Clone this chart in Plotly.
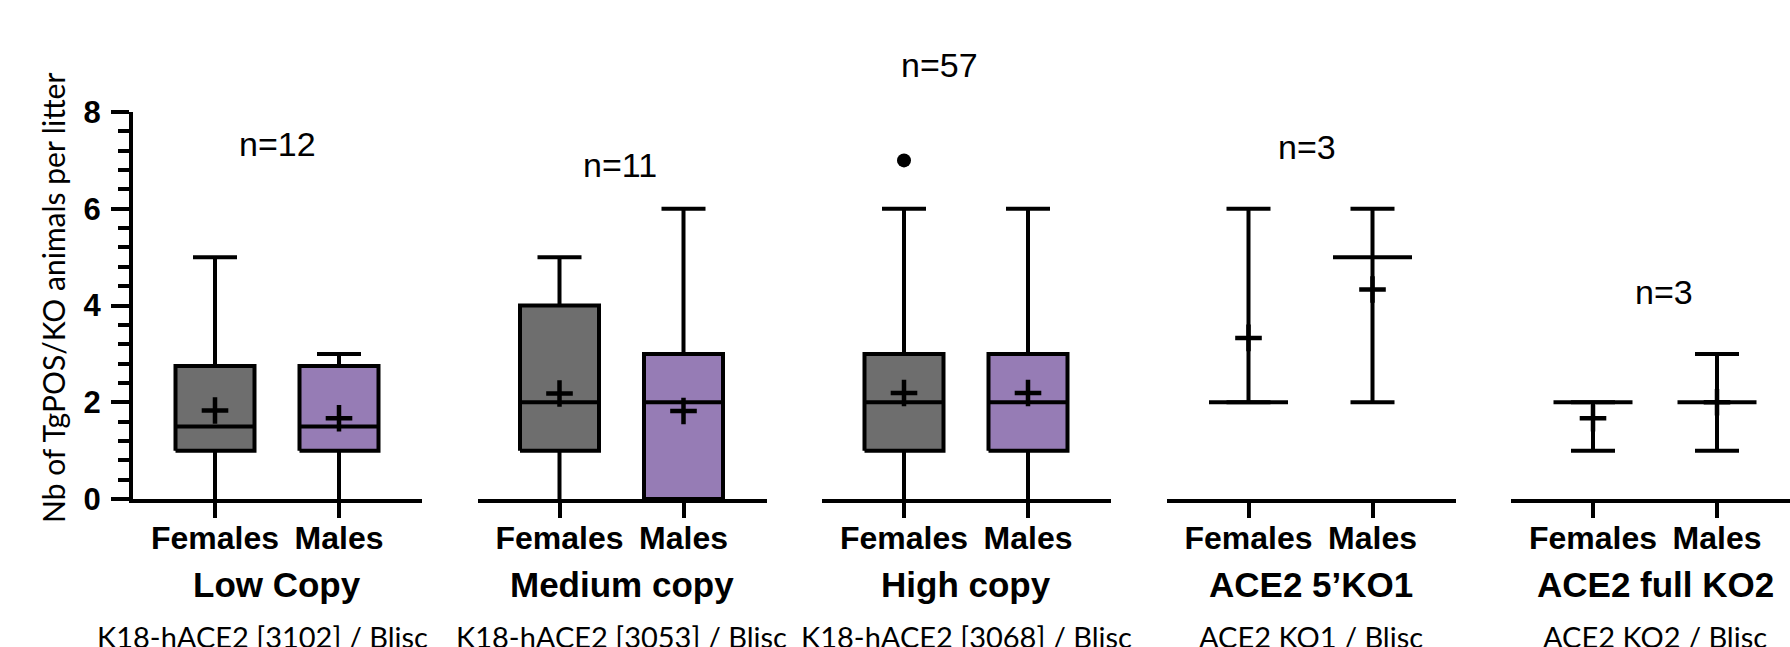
import plotly.graph_objects as go

# ---------------- data ----------------
groups = ["Low Copy", "Medium copy", "High copy", "ACE2 5\u2019KO1", "ACE2 full KO2"]
strains = ["K18-hACE2 [3102] / Blisc", "K18-hACE2 [3053] / Blisc",
           "K18-hACE2 [3068] / Blisc", "ACE2 KO1 / Blisc", "ACE2 KO2 / Blisc"]
n_labels = ["n=12", "n=11", "n=57", "n=3", "n=3"]
sexes = ["Females", "Males"]

# per group: [Females, Males]
mins = [[0, 0], [0, 0], [0, 0], [2, 2], [1, 1]]
q1s = [[1, 1], [1, 0], [1, 1], [None, None], [None, None]]
medians = [[1.5, 1.5], [2, 2], [2, 2], [2, 5], [2, 2]]
q3s = [[2.75, 2.75], [4, 3], [3, 3], [None, None], [None, None]]
maxs = [[5, 3], [5, 6], [6, 6], [6, 6], [2, 3]]
means = [[1.83, 1.67], [2.18, 1.82], [2.19, 2.19], [3.33, 4.33], [1.67, 2.0]]
outliers = [[[], []], [[], []], [[7], []], [[], []], [[], []]]

y_ticks = [0, 2, 4, 6, 8]

# ---------------- styles / geometry ----------------
W, H = 1790, 647
L, T, B = 133, 112, 148
plot_w = W - L
plot_h = H - T - B
panel_step = 344.5
panel_w = 289
first_off = 82.0
cat_step = 124.0
box_half = 39.5 / cat_step
cap_half = 22.0 / cat_step
fills = ["#6e6e6e", "#967cb5"]
FONT_SANS = "Liberation Sans, Arial, sans-serif"
FONT_SUB = "Lato, Open Sans, sans-serif"
n_pos = [(0.50, 143.5), (0.49, 165.0), (0.29, 65.0), (0.47, 147.0), (0.57, 292.0)]
sub_x = [0.38, 0.5, 0.5, 0.5, 0.5]
y_min = 0


def py(p):
    """pixel y -> paper y"""
    return (H - B - p) / plot_h


fig = go.Figure()
layout = dict(
    width=W, height=H,
    margin=dict(l=L, r=0, t=T, b=B, pad=0),
    paper_bgcolor="white", plot_bgcolor="white",
    showlegend=False,
    yaxis=dict(range=[y_min, 8], domain=[0, 1], anchor="x",
               showline=True, linewidth=4, linecolor="black",
               tickmode="array", tickvals=y_ticks, ticktext=[str(v) for v in y_ticks],
               ticks="outside", ticklen=18, tickwidth=3.5, tickcolor="black",
               minor=dict(ticks="outside", ticklen=11, tickwidth=3.5, tickcolor="black",
                          tick0=0, dtick=0.4, showgrid=False),
               tickfont=dict(family=FONT_SANS, size=31, color="black", weight="bold"),
               ticklabelstandoff=4,
               showgrid=False, zeroline=False, fixedrange=True),
)

annotations = []
for k in range(len(groups)):
    xa = "x" if k == 0 else f"x{k+1}"
    xkey = "xaxis" if k == 0 else f"xaxis{k+1}"
    start_px = k * panel_step
    end_px = min(plot_w, start_px + panel_w)
    layout[xkey] = dict(
        domain=[start_px / plot_w, end_px / plot_w],
        range=[-first_off / cat_step, (end_px - start_px - first_off) / cat_step],
        anchor="y",
        showline=True, linewidth=4, linecolor="black",
        tickmode="array", tickvals=[0, 1], ticktext=sexes,
        ticks="outside", ticklen=15, tickwidth=3.5, tickcolor="black",
        tickfont=dict(family=FONT_SANS, size=32, color="black", weight="bold"),
        ticklabelstandoff=-7,
        showgrid=False, zeroline=False, fixedrange=True,
    )

    for j in range(2):
        c = j
        mn, q1, md, q3, mx, mu = mins[k][j], q1s[k][j], medians[k][j], q3s[k][j], maxs[k][j], means[k][j]
        has_box = q1 is not None
        # box
        if has_box:
            fig.add_trace(go.Scatter(
                x=[c - box_half, c + box_half, c + box_half, c - box_half, c - box_half],
                y=[q1, q1, q3, q3, q1], xaxis=xa, yaxis="y",
                mode="lines", fill="toself", fillcolor=fills[j],
                line=dict(color="black", width=4), hoverinfo="skip"))
            wx = [c, c, None, c, c]
            wy = [mn, q1, None, q3, mx]
        else:
            wx = [c, c]
            wy = [mn, mx]
        # whiskers + caps + median (a cap lying on the x axis is hidden by it)
        sx = wx + [None, c - cap_half, c + cap_half, None, c - box_half, c + box_half]
        sy = wy + [None, mx, mx, None, md, md]
        if mn > y_min:
            sx += [None, c - cap_half, c + cap_half]
            sy += [None, mn, mn]
        fig.add_trace(go.Scatter(x=sx, y=sy, xaxis=xa, yaxis="y", mode="lines",
                                 line=dict(color="black", width=4), hoverinfo="skip"))
        # mean
        fig.add_trace(go.Scatter(x=[c], y=[mu], xaxis=xa, yaxis="y", mode="markers",
                                 marker=dict(symbol="cross-thin", size=19,
                                             line=dict(color="black", width=4.5)),
                                 cliponaxis=False, hoverinfo="skip"))
        # outliers
        if outliers[k][j]:
            fig.add_trace(go.Scatter(x=[c] * len(outliers[k][j]), y=outliers[k][j],
                                     xaxis=xa, yaxis="y", mode="markers",
                                     marker=dict(symbol="circle", size=14, color="black"),
                                     cliponaxis=False, hoverinfo="skip"))

    nx, npx = n_pos[k]
    annotations.append(dict(text=n_labels[k], xref=xa, yref="paper", x=nx, y=py(npx),
                            xanchor="center", yanchor="middle", showarrow=False,
                            font=dict(family=FONT_SANS, size=34, color="black")))
    annotations.append(dict(text=groups[k], xref=xa, yref="paper", x=0.5, y=py(584),
                            xanchor="center", yanchor="middle", showarrow=False,
                            font=dict(family=FONT_SANS, size=35, color="black", weight="bold")))
    annotations.append(dict(text=strains[k], xref=xa, yref="paper", x=sub_x[k], y=py(636),
                            xanchor="center", yanchor="middle", showarrow=False,
                            font=dict(family=FONT_SUB, size=29, color="black")))

annotations.append(dict(text="Nb of TgPOS/KO animals per litter", xref="paper", yref="paper",
                        x=(53 - L) / plot_w, y=py(298), xanchor="center", yanchor="middle",
                        textangle=-90, showarrow=False,
                        font=dict(family=FONT_SUB, size=30, color="black")))

layout["annotations"] = annotations
fig.update_layout(**layout)
fig.write_html("out.html")
